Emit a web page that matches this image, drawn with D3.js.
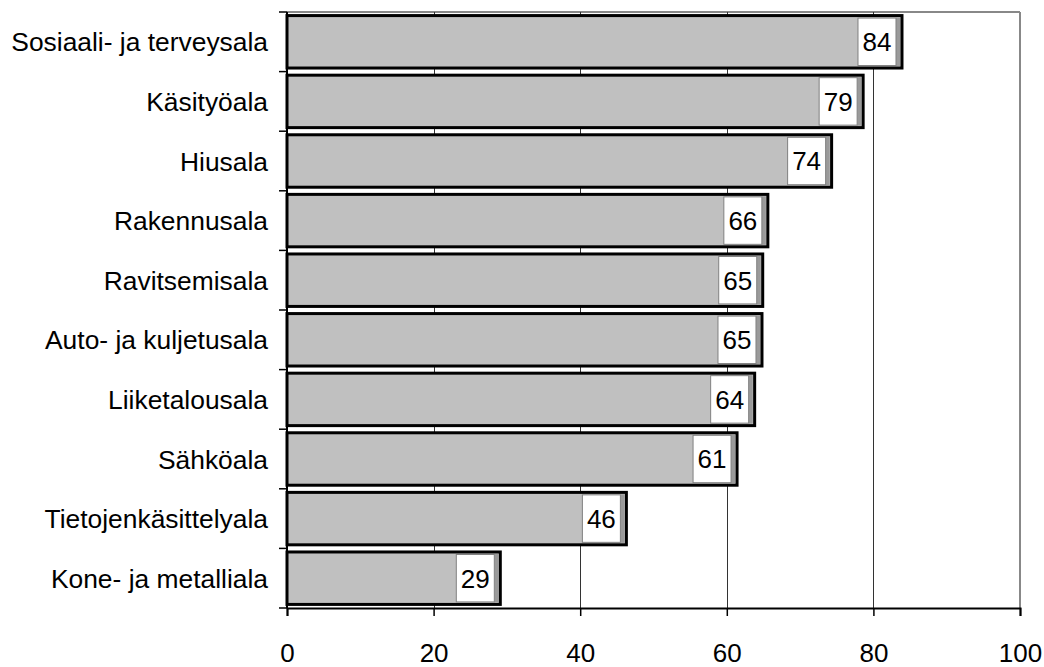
<!DOCTYPE html>
<html><head><meta charset="utf-8">
<script src="https://cdn.jsdelivr.net/npm/d3@7"></script>
<style>body{margin:0;background:#fff}svg{display:block}text{font-family:"Liberation Sans",Arial,sans-serif}</style>
</head><body><svg id="c" width="1044" height="667"></svg>
<script>
const categories = ["Sosiaali- ja terveysala","Käsityöala","Hiusala","Rakennusala","Ravitsemisala","Auto- ja kuljetusala","Liiketalousala","Sähköala","Tietojenkäsittelyala","Kone- ja metalliala"];
const values = [83.9, 78.6, 74.3, 65.6, 64.9, 64.8, 63.8, 61.4, 46.3, 29.1];
const xTicks = [0,20,40,60,80,100];

const svg = d3.select("#c");
const m = {l:287, r:1020, t:12, b:608};
const x = d3.scaleLinear().domain([0,100]).range([m.l, m.r]);
const y = d3.scaleBand().domain(categories).range([m.t, m.b]).paddingInner(0.12).paddingOuter(0.06);

// plot border (top/right gray)
svg.append("line").attr("x1",m.l).attr("x2",m.r).attr("y1",m.t).attr("y2",m.t).attr("stroke","#888").attr("stroke-width",2);
svg.append("line").attr("x1",m.r).attr("x2",m.r).attr("y1",m.t).attr("y2",m.b).attr("stroke","#888").attr("stroke-width",2);

// gridlines
svg.append("g").selectAll("line").data(xTicks.filter(d=>d>0 && d<100)).join("line")
  .attr("x1",d=>Math.round(x(d))+0.5).attr("x2",d=>Math.round(x(d))+0.5)
  .attr("y1",m.t).attr("y2",m.b).attr("stroke","#333").attr("stroke-width",1);

// bars
const bars = svg.append("g").selectAll("g").data(categories).join("g");
bars.append("rect")
  .attr("x",x(0)).attr("y",d=>y(d))
  .attr("width",(d,i)=>x(values[i])-x(0)).attr("height",y.bandwidth())
  .attr("fill","#c0c0c0").attr("stroke","#000").attr("stroke-width",3);
// inner shade near right edge
bars.append("rect")
  .attr("x",(d,i)=>x(values[i])-6).attr("y",d=>y(d)+2)
  .attr("width",4).attr("height",y.bandwidth()-4)
  .attr("fill","#9a9a9a");
// label boxes
const bw = 38;
bars.append("rect")
  .attr("x",(d,i)=>x(values[i])-6-bw).attr("y",d=>y(d)+2.5)
  .attr("width",bw).attr("height",y.bandwidth()-5)
  .attr("fill","#fff").attr("stroke","#808080").attr("stroke-width",1);
bars.append("text")
  .attr("x",(d,i)=>x(values[i])-6-bw/2).attr("y",d=>y(d)+y.bandwidth()/2)
  .attr("dy","0.36em").attr("text-anchor","middle").attr("font-size",26)
  .text((d,i)=>d3.format(".0f")(values[i]));

// left axis
const band = (m.b-m.t)/categories.length;
svg.append("line").attr("x1",m.l).attr("x2",m.l).attr("y1",m.t).attr("y2",m.b).attr("stroke","#000").attr("stroke-width",2);
svg.append("g").selectAll("line").data(d3.range(categories.length+1)).join("line")
  .attr("x1",m.l-8).attr("x2",m.l).attr("y1",i=>m.t+i*band).attr("y2",i=>m.t+i*band)
  .attr("stroke","#000").attr("stroke-width",1.5);
svg.append("g").selectAll("text").data(categories).join("text")
  .attr("x",268).attr("y",d=>y(d)+y.bandwidth()/2).attr("dy","0.36em")
  .attr("text-anchor","end").attr("font-size",26.4).text(d=>d);

// bottom axis
const xAxis = d3.axisBottom(x).tickValues(xTicks).tickSize(8).tickPadding(28).tickFormat(d3.format("d"));
const gx = svg.append("g").attr("transform",`translate(0,${m.b})`).call(xAxis);
gx.select(".domain").attr("stroke","#000").attr("stroke-width",2);
gx.selectAll(".tick line").attr("stroke","#000").attr("stroke-width",1.5);
gx.selectAll(".tick text").attr("font-size",26).attr("fill","#000").attr("font-family","Liberation Sans, Arial, sans-serif");
</script></body></html>
